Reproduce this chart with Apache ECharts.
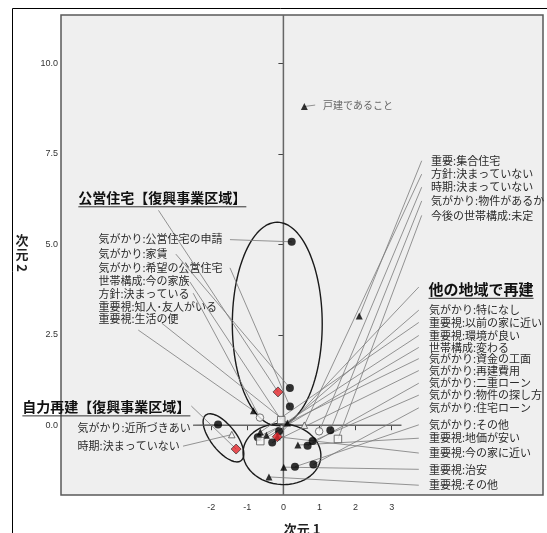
<!DOCTYPE html>
<html>
<head>
<meta charset="utf-8">
<script src="https://cdn.jsdelivr.net/npm/echarts@6/dist/echarts.min.js"></script>
<style>
html,body{margin:0;padding:0;background:#fff;}
#chart{width:547px;height:533px;}
</style>
</head>
<body>
<div id="chart"></div>
<script>
// Category quantifications: [name, 次元1, 次元2]
const fillCircle = [            // 気がかり
  ['気がかり:公営住宅の申請', 0.23, 5.07],
  ['気がかり:家賃', 0.18, 1.03],
  ['気がかり:希望の公営住宅', 0.18, 0.52],
  ['気がかり:近所づきあい', -1.81, 0.02],
  ['気がかり:物件があるか', 1.30, -0.14],
  ['気がかり:特になし', -0.12, -0.17],
  ['気がかり:資金の工面', -0.71, -0.33],
  ['気がかり:再建費用', -0.31, -0.48],
  ['気がかり:二重ローン', 0.67, -0.57],
  ['気がかり:物件の探し方', 0.81, -0.44],
  ['気がかり:住宅ローン', 0.83, -1.09],
  ['気がかり:その他', 0.32, -1.15]
];
const fillTri = [               // 重要視
  ['戸建であること', 0.58, 8.81],
  ['重要:集合住宅', 2.10, 3.02],
  ['重要視:生活の便', -0.83, 0.40],
  ['重要視:知人･友人がいる', 0.11, 0.06],
  ['重要視:以前の家に近い', -0.64, -0.19],
  ['重要視:環境が良い', -0.47, -0.28],
  ['重要視:地価が安い', 0.40, -0.55],
  ['重要視:今の家に近い', -0.17, -0.32],
  ['重要視:治安', 0.01, -1.16],
  ['重要視:その他', -0.40, -1.43]
];
const openCircle = [
  ['方針:決まっている', -0.65, 0.21],
  ['時期:決まっていない', 0.99, -0.17]
];
const openSquare = [            // 世帯構成
  ['世帯構成:今の家族', -0.06, 0.14],
  ['世帯構成:変わる', -0.64, -0.44],
  ['今後の世帯構成:未定', 1.51, -0.38]
];
const openTri = [
  ['方針:決まっていない', 0.58, 0.00],
  ['時期:決まっていない', -1.43, -0.26]
];
const centroids = [             // group centres
  ['公営住宅【復興事業区域】', -0.15, 0.92],
  ['自力再建【復興事業区域】', -1.31, -0.66],
  ['他の地域で再建', -0.17, -0.32]
];

const xTicks = [-2, -1, 0, 1, 2, 3];
const yTicks = [0, 2.5, 5, 7.5, 10];

// Group ellipses: [centre x, centre y, semi-axis a, semi-axis b, rotation deg]
const ellipses = [
  [-0.17, 2.80, 1.245, 2.81, 0],
  [-1.66, -0.35, 0.80, 0.35, -52],
  [-0.04, -0.80, 1.08, 0.84, -5]
];

// Label layout: [target set, target index, text x, text y, leader x, leader y]
const labelsLeft = [
  ['fc', 0, -5.12, 5.14, -1.48, 5.13],
  ['fc', 1, -5.12, 4.74, -2.98, 4.73],
  ['fc', 2, -5.12, 4.35, -1.48, 4.35],
  ['os', 0, -5.12, 3.98, -2.59, 3.96],
  ['oc', 0, -5.12, 3.64, -2.50, 3.65],
  ['ft', 3, -5.12, 3.28, -3.37, 2.82],
  ['ft', 2, -5.12, 2.93, -4.02, 2.63]
];
const labelsTopRight = [
  ['ft', 1, 4.09, 7.31, 3.83, 7.31],
  ['ot', 0, 4.09, 6.94, 3.83, 6.94],
  ['oc', 1, 4.09, 6.58, 3.83, 6.58],
  ['fc', 4, 4.09, 6.20, 3.83, 6.20],
  ['os', 2, 4.09, 5.80, 3.83, 5.80]
];
const labelsRight = [
  ['fc', 5, 4.03, 3.18, 3.75, 3.18],
  ['ft', 4, 4.03, 2.84, 3.75, 2.84],
  ['ft', 5, 4.03, 2.48, 3.75, 2.48],
  ['os', 1, 4.03, 2.15, 3.75, 2.15],
  ['fc', 6, 4.03, 1.84, 3.75, 1.84],
  ['fc', 7, 4.03, 1.51, 3.75, 1.51],
  ['fc', 8, 4.03, 1.16, 3.75, 1.16],
  ['fc', 9, 4.03, 0.83, 3.75, 0.83],
  ['fc', 10, 4.03, 0.48, 3.75, 0.48],
  ['fc', 11, 4.03, 0.01, 3.75, 0.01],
  ['ft', 6, 4.03, -0.36, 3.75, -0.36],
  ['ft', 7, 4.03, -0.77, 3.75, -0.77],
  ['ft', 8, 4.03, -1.22, 3.75, -1.22],
  ['ft', 9, 4.03, -1.66, 3.75, -1.66]
];
const labelsSelf = [
  ['fc', 3, -5.70, -0.07, -2.49, -0.01],
  ['ot', 1, -5.70, -0.58, -2.78, -0.58]
];
const labelsHouse = [
  ['ft', 0, 1.10, 8.85, 0.88, 8.85]
];
// group titles also carry their font size
const groupTitles = [
  ['cd', 0, -5.68, 6.30, -3.46, 5.94, 14],
  ['cd', 1, -7.23, 0.52, -2.55, 0.53, 14],
  ['cd', 2, 4.02, 3.77, 3.75, 3.82, 15]
];

const sets = { fc: fillCircle, ft: fillTri, oc: openCircle, os: openSquare, ot: openTri, cd: centroids };
const JP = '"Noto Sans CJK JP", "Noto Sans", sans-serif';
const PLOT_BG = '#efefef';

function pts(arr) { return arr.map(d => [d[1], d[2]]); }
function target(l) { const p = sets[l[0]][l[1]]; return [p[1], p[2]]; }

const allLabels = [].concat(labelsLeft, labelsTopRight, labelsRight, labelsSelf, labelsHouse, groupTitles);
const leaderData = allLabels.map(l => ({ coords: [[l[4], l[5]], target(l)] }));

function ellipsePath(e) {
  const [cx, cy, a, b, rot] = e;
  const th = rot * Math.PI / 180, out = [];
  for (let k = 0; k <= 120; k++) {
    const t = k / 120 * 2 * Math.PI;
    out.push([cx + a * Math.cos(t) * Math.cos(th) - b * Math.sin(t) * Math.sin(th),
              cy + a * Math.cos(t) * Math.sin(th) + b * Math.sin(t) * Math.cos(th)]);
  }
  return out;
}

const chart = echarts.init(document.getElementById('chart'), null, { renderer: 'canvas' });

const openStyle = { color: '#f7f7f7', borderColor: '#555', borderWidth: 1 };

const option = {
  animation: false,
  grid: {
    left: 61, top: 15, width: 482, height: 480,
    show: true, backgroundColor: PLOT_BG, borderColor: '#5a5a5a', borderWidth: 1.5
  },
  xAxis: {
    type: 'value', min: -6.16, max: 7.19,
    splitLine: { show: false }, axisLine: { show: false },
    axisTick: { show: true, customValues: xTicks, length: 5, lineStyle: { color: '#444', width: 1 } },
    axisLabel: { customValues: xTicks, fontSize: 9, color: '#333', margin: 8, fontFamily: 'Liberation Sans, Arial, sans-serif' }
  },
  yAxis: {
    type: 'value', min: -1.93, max: 11.34,
    splitLine: { show: false }, axisLine: { show: false },
    axisTick: { show: true, customValues: yTicks, length: 5, lineStyle: { color: '#444', width: 1 } },
    axisLabel: { customValues: yTicks, fontSize: 9, color: '#333', margin: 3,
      formatter: v => Number(v).toFixed(1), fontFamily: 'Liberation Sans, Arial, sans-serif' }
  },
  series: [
    { type: 'line', data: [[0, -1.93], [0, 11.34]], symbol: 'none', silent: true, z: 1,
      lineStyle: { color: '#666', width: 1.5 } },
    { type: 'line', data: [[-2.5, 0], [3.27, 0]], symbol: 'none', silent: true, z: 1,
      lineStyle: { color: '#666', width: 1.5 } },
    { type: 'lines', coordinateSystem: 'cartesian2d', data: leaderData, silent: true, z: 3,
      lineStyle: { color: '#7a7a7a', width: 0.8, opacity: 1 } },
  ].concat(ellipses.map(e => ({
      type: 'line', data: ellipsePath(e), symbol: 'none', smooth: false, silent: true, z: 2,
      lineStyle: { color: '#1a1a1a', width: 1.4 }
  }))).concat([
    { type: 'scatter', data: pts(fillTri), symbol: 'triangle', symbolSize: 7, z: 5,
      itemStyle: { color: '#000' } },
    { type: 'scatter', data: pts(fillCircle), symbol: 'circle', symbolSize: 8, z: 5,
      itemStyle: { color: '#000' } },
    { type: 'scatter', data: pts(openCircle), symbol: 'circle', symbolSize: 7.5, z: 5, itemStyle: openStyle },
    { type: 'scatter', data: pts(openSquare), symbol: 'rect', symbolSize: 7.5, z: 5, itemStyle: openStyle },
    { type: 'scatter', data: pts(openTri), symbol: 'triangle', symbolSize: 6.5, z: 5, itemStyle: openStyle },
    { type: 'scatter', data: pts(centroids), symbol: 'diamond', symbolSize: 10, z: 6,
      itemStyle: { color: '#e3262b', borderColor: '#222', borderWidth: 0.8 } }
  ])
};
chart.setOption(option);

// Text layer placed through the axis scales
const measure = document.createElement('canvas').getContext('2d');
function textWidth(font, s) { measure.font = font; return measure.measureText(s).width; }
function toPx(x, y) { return chart.convertToPixel({ gridIndex: 0 }, [x, y]); }

const graphic = [];
function addLabel(l, font, fill) {
  const p = toPx(l[2], l[3]);
  graphic.push({ type: 'text', x: p[0], y: p[1], z: 10, silent: true,
    style: { text: sets[l[0]][l[1]][0], font: font, fill: fill, align: 'left', verticalAlign: 'middle' } });
}
const labelFont = '11px ' + JP;
[].concat(labelsLeft, labelsTopRight, labelsRight, labelsSelf).forEach(l => addLabel(l, labelFont, '#2b2b2b'));
labelsHouse.forEach(l => addLabel(l, '10px ' + JP, '#666'));

groupTitles.forEach(l => {
  const titleFont = 'bold ' + l[6] + 'px ' + JP;
  const p = toPx(l[2], l[3]);
  const s = sets[l[0]][l[1]][0];
  const w = textWidth(titleFont, s);
  graphic.push({ type: 'text', x: p[0], y: p[1], z: 10, silent: true,
    style: { text: s, font: titleFont, fill: '#111', align: 'left', verticalAlign: 'middle' } });
  graphic.push({ type: 'line', z: 10, silent: true,
    shape: { x1: p[0], y1: p[1] + 9.5, x2: p[0] + w, y2: p[1] + 9.5 },
    style: { stroke: '#333', lineWidth: 1 } });
});

// Axis titles
const axisFont = 'bold 13px ' + JP;
graphic.push({ type: 'text', x: 302, y: 523, z: 10, silent: true,
  style: { text: '次元 1', font: axisFont, fill: '#222', align: 'center', verticalAlign: 'top' } });
graphic.push({ type: 'text', x: 22, y: 240, z: 10, silent: true,
  style: { text: '次', font: axisFont, fill: '#222', align: 'center', verticalAlign: 'middle' } });
graphic.push({ type: 'text', x: 22, y: 254, z: 10, silent: true,
  style: { text: '元', font: axisFont, fill: '#222', align: 'center', verticalAlign: 'middle' } });
graphic.push({ type: 'text', x: 22, y: 268, rotation: -Math.PI / 2, z: 10, silent: true,
  style: { text: '2', font: axisFont, fill: '#222', align: 'center', verticalAlign: 'middle' } });

// Outer frame
graphic.push({ type: 'rect', z: 0, silent: true,
  shape: { x: 12.5, y: 8.5, width: 600, height: 600 },
  style: { fill: 'none', stroke: '#000', lineWidth: 1 } });

chart.setOption({ graphic: graphic });
</script>
</body>
</html>
